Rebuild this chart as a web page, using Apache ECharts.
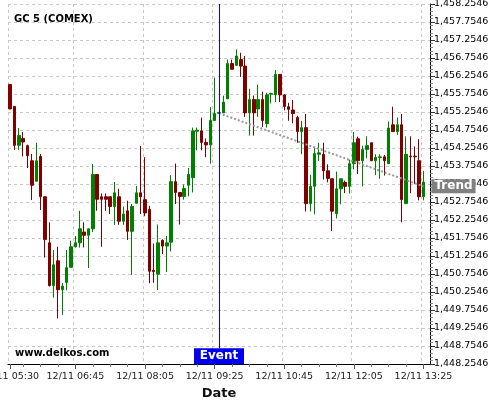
<!DOCTYPE html>
<html>
<head>
<meta charset="utf-8">
<script src="https://cdn.jsdelivr.net/npm/echarts@6/dist/echarts.min.js"></script>
<style>html,body{margin:0;padding:0;background:#fff}#c{width:500px;height:400px}</style>
</head>
<body>
<div id="c"></div>
<script>
const times = ["05:30","05:35","05:40","05:45","05:50","05:55","06:00","06:05","06:10","06:15","06:20","06:25",
"06:30","06:35","06:40","06:45","06:50","06:55","07:00","07:05","07:10","07:15","07:20","07:25",
"07:30","07:35","07:40","07:45","07:50","07:55","08:00","08:05","08:10","08:15","08:20","08:25",
"08:30","08:35","08:40","08:45","08:50","08:55","09:00","09:05","09:10","09:15","09:20","09:25",
"09:30","09:35","09:40","09:45","09:50","09:55","10:00","10:05","10:10","10:15","10:20","10:25",
"10:30","10:35","10:40","10:45","10:50","10:55","11:00","11:05","11:10","11:15","11:20","11:25",
"11:30","11:35","11:40","11:45","11:50","11:55","12:00","12:05","12:10","12:15","12:20","12:25",
"12:30","12:35","12:40","12:45","12:50","12:55","13:00","13:05","13:10","13:15","13:20","13:25"];
const datePrefix = "12/11 ";
const labelIdx = [0, 15, 31, 47, 63, 79, 95];

const openV = [1456.02,1455.41,1454.33,1454.52,1454.32,1453.90,1453.33,1454.02,1452.90,1451.62,1450.43,1451.12,
1450.32,1450.52,1450.94,1451.51,1451.62,1451.92,1451.83,1452.01,1453.52,1452.90,1452.90,1452.90,
1452.63,1452.90,1452.22,1452.51,1451.94,1452.72,1453.01,1452.82,1452.55,1450.86,1450.75,1451.69,
1451.53,1451.64,1453.32,1453.02,1452.91,1453.22,1453.43,1454.72,1454.73,1454.41,1454.34,1455.02,
1455.22,1455.23,1455.62,1456.60,1456.55,1456.71,1456.53,1455.23,1455.60,1455.34,1455.60,1454.93,
1455.75,1455.73,1456.30,1455.73,1455.40,1455.31,1455.10,1454.71,1454.82,1452.71,1453.19,1454.08,
1454.08,1453.62,1453.40,1452.43,1453.12,1453.30,1453.19,1453.82,1454.51,1453.90,1454.21,1454.40,
1453.90,1453.99,1454.01,1453.82,1454.90,1454.71,1454.90,1452.71,1454.03,1454.03,1453.90,1452.90];
const closeV = [1455.34,1454.33,1454.60,1454.42,1454.04,1453.22,1453.90,1452.90,1451.71,1450.43,1451.01,1450.32,
1450.42,1450.93,1451.51,1451.62,1452.01,1451.83,1452.01,1453.52,1452.83,1452.83,1452.83,1452.63,
1453.01,1452.22,1452.42,1451.94,1452.63,1453.01,1452.90,1452.45,1450.83,1450.82,1451.62,1451.53,
1451.62,1453.32,1453.02,1452.91,1453.13,1453.52,1454.73,1454.75,1454.41,1454.34,1455.02,1455.21,
1455.24,1455.53,1456.60,1456.44,1456.81,1456.53,1455.23,1455.60,1455.23,1455.60,1455.02,1455.73,
1455.77,1456.30,1455.73,1455.41,1455.33,1455.21,1454.71,1454.82,1452.71,1453.19,1454.10,1454.12,
1453.62,1453.41,1452.50,1453.12,1453.40,1453.19,1453.82,1454.40,1453.90,1454.21,1454.32,1453.90,
1453.99,1454.01,1453.90,1454.81,1454.71,1454.90,1452.82,1454.08,1454.01,1454.01,1452.90,1453.31];
const lowV = [1455.33,1454.20,1454.20,1454.02,1453.70,1452.81,1453.33,1452.53,1451.21,1450.41,1450.10,1449.52,
1449.62,1450.30,1450.92,1451.49,1451.49,1451.49,1450.92,1451.92,1452.51,1451.51,1452.51,1452.42,
1452.12,1452.12,1452.12,1451.70,1450.73,1452.72,1452.42,1452.36,1450.50,1450.51,1450.31,1451.31,
1450.81,1451.38,1452.70,1452.13,1452.82,1452.91,1453.02,1454.19,1454.19,1454.00,1453.82,1455.02,
1455.20,1455.23,1455.62,1456.44,1456.55,1456.23,1455.12,1454.60,1454.60,1455.12,1454.84,1454.82,
1455.49,1455.53,1455.53,1455.30,1455.01,1454.94,1454.40,1454.08,1452.49,1452.49,1452.41,1453.90,
1453.38,1453.30,1451.95,1452.30,1452.69,1453.00,1452.99,1453.66,1453.53,1453.19,1453.97,1453.90,
1453.50,1453.40,1453.49,1453.82,1454.71,1454.62,1452.19,1452.71,1453.00,1453.25,1452.80,1452.80];
const highV = [1456.03,1455.41,1454.81,1454.70,1454.35,1454.09,1454.40,1454.09,1452.90,1452.19,1451.42,1451.51,
1450.50,1451.42,1451.68,1451.81,1452.51,1452.19,1452.01,1453.81,1453.52,1452.99,1452.99,1452.90,
1453.31,1453.12,1452.63,1452.79,1452.70,1453.20,1454.31,1454.00,1452.65,1451.60,1452.13,1451.72,
1451.81,1453.50,1453.82,1453.02,1453.24,1453.70,1454.82,1454.82,1455.10,1454.52,1455.39,1456.21,
1455.26,1455.71,1456.71,1456.71,1456.99,1456.90,1456.81,1455.90,1455.71,1456.01,1455.82,1455.79,
1455.79,1456.42,1456.30,1455.75,1455.51,1455.59,1455.15,1455.01,1455.20,1453.51,1454.29,1454.40,
1454.40,1453.80,1453.40,1453.60,1453.40,1453.35,1453.93,1454.70,1454.57,1454.32,1454.58,1454.40,
1454.08,1454.08,1454.06,1454.99,1455.40,1455.10,1455.20,1454.58,1454.58,1454.30,1454.50,1453.62];

// Trend line (start/end) and Event annotation
const trendTimes = ["09:30", "13:25"];
const trendValues = [1455.22, 1453.19];
const eventTime = "09:30";
const eventTop = 1458.2546;
const eventBottom = 1448.70;
const eventBoxValue = 1448.47;

// Axis: price labels 1,448.2546 .. 1,458.2546 every 0.5
const AX_OFF = 0.2546;
const yMin = 1448.2546, yMax = 1458.2546, yStep = 0.5;

function fmtPrice(v) {
  const s = (v + AX_OFF).toFixed(4);
  const [i, d] = s.split('.');
  return i.replace(/\B(?=(\d{3})+(?!\d))/g, ',') + '.' + d;
}
const sh = v => +(v - AX_OFF).toFixed(6);

const candleData = openV.map((o, i) => [sh(o), sh(closeV[i]), sh(lowV[i]), sh(highV[i])]);
const cats = times.concat(['']);
const FONT = 'DejaVu Sans';

const chart = echarts.init(document.getElementById('c'), null, {renderer: 'canvas'});
chart.setOption({
  animation: false,
  backgroundColor: '#ffffff',
  title: {
    text: 'GC 5 (COMEX)', left: 9, top: 9,
    textStyle: {fontSize: 10, fontWeight: 'bold', color: '#000', fontFamily: FONT}
  },
  graphic: [{
    type: 'text', left: 15, top: 348,
    style: {text: 'www.delkos.com', font: 'bold 10px "DejaVu Sans"', fill: '#000'}
  }],
  grid: {left: 8, right: 70, top: 4, bottom: 36, containLabel: false, outerBoundsMode: 'none'},
  xAxis: [{
    type: 'category', data: cats, boundaryGap: true,
    name: 'Date', nameLocation: 'middle', nameGap: 18,
    nameTextStyle: {fontSize: 13, fontWeight: 'bold', color: '#111', fontFamily: FONT},
    axisLine: {show: true, lineStyle: {color: '#000', width: 1}},
    axisTick: {show: true, alignWithLabel: true, length: 5, lineStyle: {color: '#555'},
      interval: (i) => labelIdx.includes(i)},
    axisLabel: {show: true, fontSize: 9.5, color: '#222', fontFamily: FONT, margin: 8,
      hideOverlap: false, interval: (i) => labelIdx.includes(i), formatter: (v) => datePrefix + v},
    splitLine: {show: true, interval: (i) => labelIdx.includes(i),
      lineStyle: {color: '#c8c8c8', type: [3, 3], width: 1}}
  }, {
    type: 'category', data: cats, boundaryGap: true, position: 'bottom',
    axisLine: {show: false},
    axisTick: {show: true, alignWithLabel: true, length: 3, lineStyle: {color: '#777'},
      interval: (i) => i % 4 === 3 && !labelIdx.includes(i)},
    axisLabel: {show: false}, splitLine: {show: false}
  }],
  yAxis: {
    type: 'value', position: 'right', scale: true,
    min: sh(yMin), max: sh(yMax), interval: yStep,
    axisLine: {show: true, lineStyle: {color: '#000', width: 1}},
    axisTick: {show: true, length: 5, lineStyle: {color: '#333'}},
    minorTick: {show: true, splitNumber: 5, length: 3, lineStyle: {color: '#888'}},
    axisLabel: {fontSize: 9.5, color: '#000', fontFamily: FONT, margin: 4, formatter: fmtPrice},
    splitLine: {show: true, lineStyle: {color: '#c8c8c8', type: [3, 3], width: 1}},
    minorSplitLine: {show: false}
  },
  series: [{
    type: 'candlestick', xAxisIndex: 0, data: candleData, barWidth: 3,
    itemStyle: {color: '#008000', color0: '#800000', borderColor: '#008000', borderColor0: '#800000', borderWidth: 1},
    markLine: {
      silent: true, symbol: ['none', 'none'], animation: false,
      label: {show: false},
      lineStyle: {color: '#0000ff', width: 1, type: 'solid', opacity: 1},
      emphasis: {disabled: true},
      data: [[{coord: [eventTime, sh(eventTop)]}, {coord: [eventTime, sh(eventBottom)]}]]
    },
    markPoint: {
      silent: true, animation: false,
      data: [{
        coord: [eventTime, sh(eventBoxValue)], symbol: 'rect', symbolSize: [50, 16],
        itemStyle: {color: '#0000ee'},
        label: {show: true, position: 'inside', formatter: 'Event', color: '#fff',
          fontWeight: 'bold', fontSize: 12, fontFamily: FONT}
      }]
    }
  }, {
    type: 'line', xAxisIndex: 0,
    data: trendTimes.map((t, i) => [t, sh(trendValues[i])]),
    symbol: 'none', silent: true,
    lineStyle: {color: '#999999', width: 2, type: [2, 2]},
    endLabel: {show: true, formatter: 'Trend', distance: 8, color: '#fff',
      backgroundColor: '#808080', fontWeight: 'bold', fontSize: 12, fontFamily: FONT,
      padding: [1, 3, 1, 3]}
  }]
});
</script>
</body>
</html>
